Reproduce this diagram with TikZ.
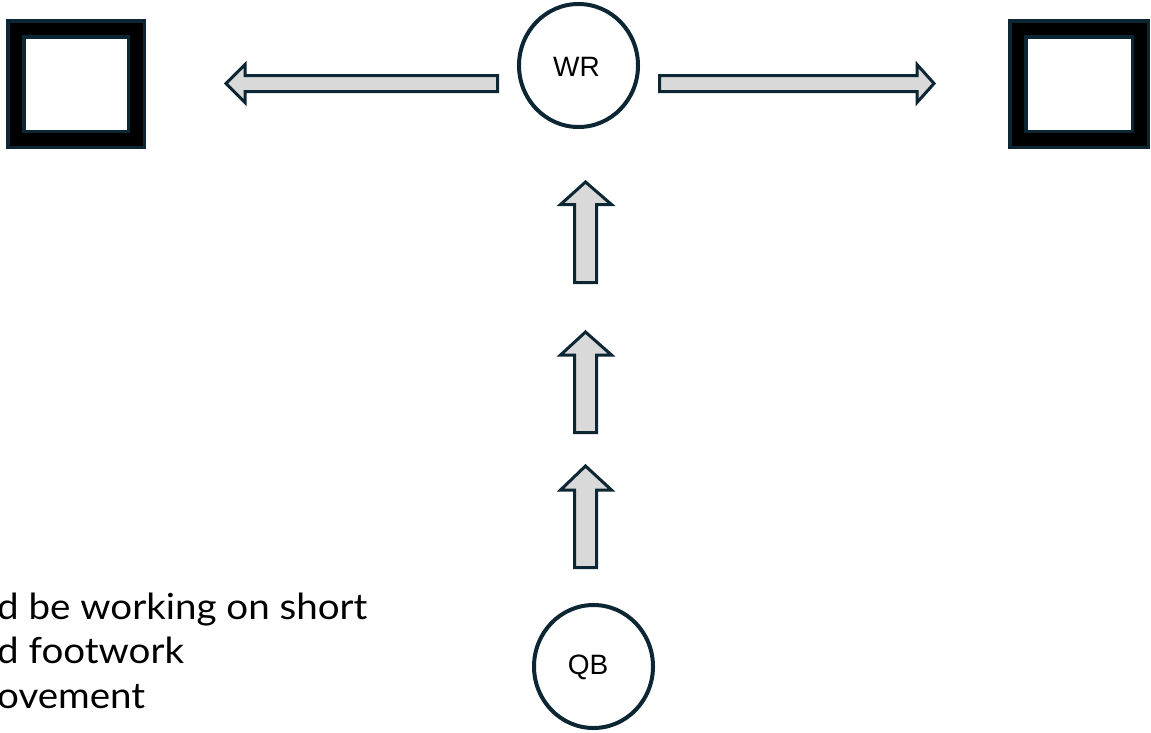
\documentclass[tikz,border=0pt]{standalone}
\usepackage{fontspec}
\setmainfont{Liberation Sans}
\newfontfamily\notefont[FakeStretch=1.07]{Lato}
\usetikzlibrary{shapes.geometric}
\definecolor{ink}{RGB}{12,38,52}
\definecolor{shaftgray}{RGB}{217,217,217}

\begin{document}
\begin{tikzpicture}[x=1pt,y=-1pt,
  blockarrow/.style={draw=ink, fill=shaftgray, line width=3pt, line join=miter},
  player/.style={ellipse, draw=ink, line width=4pt, fill=white, inner sep=0pt,
    minimum width=119pt, minimum height=123pt},
  tag/.style={inner sep=0pt, font=\fontsize{28}{30}\selectfont},
  frame/.style={rectangle, draw=ink, line width=3.5pt, fill=black, inner sep=0pt},
  hole/.style={rectangle, draw=ink, line width=3.5pt, fill=white, inner sep=0pt},
  note/.style={anchor=base west, inner sep=0pt, font=\notefont\fontsize{36}{44}\selectfont}]
  \useasboundingbox (0,0) rectangle (1151,732);
  \clip (0,0) rectangle (1151,732);

  % end zones
  \node[frame, minimum width=136.5pt, minimum height=126.5pt] (leftbox) at (76,84) {};
  \node[hole, minimum width=104.5pt, minimum height=94.5pt] (lefthole) at (76,84) {};
  \node[frame, minimum width=138.5pt, minimum height=126.5pt] (rightbox) at (1079,84) {};
  \node[hole, minimum width=106.5pt, minimum height=94.5pt] (righthole) at (1079,84) {};

  % players
  \node[player] (wr) at (578.5,65.5) {};
  \node[tag] (wrlabel) at (576.5,67) {WR};
  \node[player] (qb) at (593.5,666.5) {};
  \node[tag] (qblabel) at (588,667) {QB};

  % route arrows
  \draw[blockarrow] (497.5,75.5) -- (245,75.5) -- (245,64.5) -- (226,83.5)
    -- (245,102.5) -- (245,91.5) -- (497.5,91.5) -- cycle;
  \draw[blockarrow] (659.5,75.5) -- (917,75.5) -- (917,64.5) -- (934,83.5)
    -- (917,102.5) -- (917,91.5) -- (659.5,91.5) -- cycle;

  \foreach \tip/\base/\bottom in {182/204.5/282.5, 332/355/432.5, 466/490/567.5}{
    \draw[blockarrow] (574.5,\bottom) -- (574.5,\base) -- (560.5,\base) -- (585.5,\tip)
      -- (611.5,\base) -- (596.5,\base) -- (596.5,\bottom) -- cycle;
  }

  % coaching note
  \node[note] (note1) at (-3,619) {d be working on short};
  \node[note] (note2) at (-3,663) {d footwork};
  \node[note] (note3) at (-3,708) {ovement};
\end{tikzpicture}
\end{document}
